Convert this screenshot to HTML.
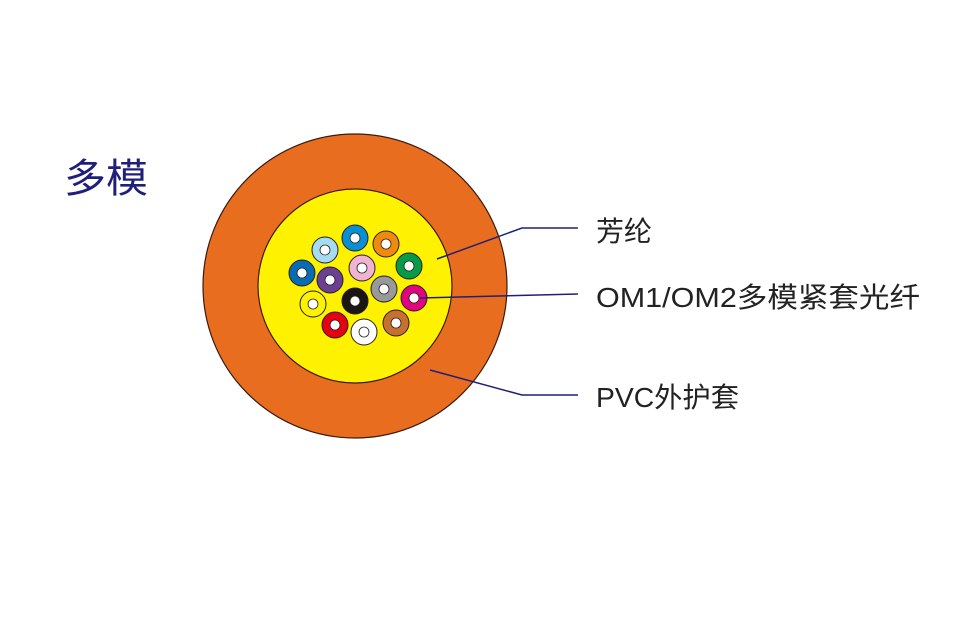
<!DOCTYPE html><html><head><meta charset="utf-8"><style>body{margin:0;background:#fff}svg{display:block}text{font-family:"Liberation Sans","Noto Sans CJK SC",sans-serif}</style></head><body>
<svg width="964" height="625" viewBox="0 0 964 625">
<text x="64" y="192" font-size="40" fill="#1f1f7a" textLength="84" lengthAdjust="spacingAndGlyphs">多模</text>
<circle cx="355" cy="286" r="152" fill="#e96d1f" stroke="#3a1a10" stroke-width="1.2"/>
<circle cx="355" cy="286" r="97" fill="#fff200" stroke="#3a1a10" stroke-width="1.2"/>
<g stroke="#222" stroke-width="1">
<circle cx="325" cy="250" r="13" fill="#a5dcf4"/>
<circle cx="355" cy="238" r="13" fill="#0b8fd4"/>
<circle cx="386" cy="244" r="13" fill="#f08a0c"/>
<circle cx="302" cy="273" r="13" fill="#0a6bb5"/>
<circle cx="330" cy="280" r="13" fill="#6b3f92"/>
<circle cx="362" cy="268" r="13" fill="#f2b3d3"/>
<circle cx="409" cy="266" r="13" fill="#079b48"/>
<circle cx="313" cy="304" r="13" fill="#fff200"/>
<circle cx="355" cy="301" r="13" fill="#1b1514"/>
<circle cx="384" cy="289" r="13" fill="#999"/>
<circle cx="414" cy="298" r="13" fill="#e2047f"/>
<circle cx="335" cy="325" r="13" fill="#e60012"/>
<circle cx="364" cy="332" r="13" fill="#fff"/>
<circle cx="396" cy="323" r="13" fill="#c8702f"/>
</g>
<g fill="#fff" stroke="#222" stroke-width="0.8">
<circle cx="325" cy="250" r="5"/><circle cx="355" cy="238" r="5"/><circle cx="386" cy="244" r="5"/><circle cx="302" cy="273" r="5"/><circle cx="330" cy="280" r="5"/><circle cx="362" cy="268" r="5"/><circle cx="409" cy="266" r="5"/><circle cx="313" cy="304" r="5"/><circle cx="355" cy="301" r="5"/><circle cx="384" cy="289" r="5"/><circle cx="414" cy="298" r="5"/><circle cx="335" cy="325" r="5"/><circle cx="364" cy="332" r="5"/><circle cx="396" cy="323" r="5"/>
</g>
<g stroke="#1f1f7a" stroke-width="1.5" fill="none">
<polyline points="437,259 522,228 578,228"/>
<polyline points="420,298 578,294"/>
<polyline points="430,370 522,395 578,395"/>
</g>
<g font-size="28" fill="#222">
<text x="596" y="241" textLength="56" lengthAdjust="spacingAndGlyphs">芳纶</text>
<text x="596" y="307" textLength="324" lengthAdjust="spacingAndGlyphs">OM1/OM2多模紧套光纤</text>
<text x="596" y="407" textLength="143" lengthAdjust="spacingAndGlyphs">PVC外护套</text>
</g>
</svg></body></html>
